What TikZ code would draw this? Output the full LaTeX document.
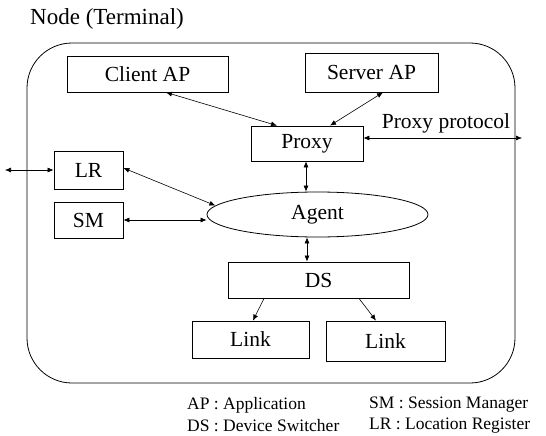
\documentclass[tikz,border=0pt]{standalone}
\usepackage{fontspec}
\setmainfont{Liberation Serif}
\usetikzlibrary{arrows.meta,shapes.geometric}
\begin{document}
\begin{tikzpicture}[x=1pt,y=-1pt,
  box/.style={draw,line width=0.8pt,inner sep=0pt,font=\fontsize{21.5}{24}\selectfont},
  conn/.style={line width=0.6pt,{Latex[length=6pt,width=5pt]}-{Latex[length=6pt,width=5pt]}},
  oneway/.style={line width=0.6pt,-{Latex[length=6pt,width=5pt]}},
  legend/.style={anchor=west,inner sep=0pt,font=\fontsize{17.5}{20}\selectfont}]
\useasboundingbox (0,0) rectangle (546,436);
\draw[line width=0.8pt,rounded corners=45pt] (27,43) rectangle (515,383);
\node[anchor=west,inner sep=0pt,font=\fontsize{23}{26}\selectfont] (title) at (30,19) {Node (Terminal)};
\node[box,minimum width=161pt,minimum height=36pt] (client) at (147.5,74) {Client AP};
\node[box,minimum width=133pt,minimum height=39pt] (server) at (371.5,72.5) {Server AP};
\node[box,minimum width=112pt,minimum height=35pt] (proxy) at (307,143.5) {Proxy};
\node[box,minimum width=69pt,minimum height=38pt] (lr) at (88.5,170) {LR};
\node[box,minimum width=69pt,minimum height=36pt] (sm) at (88.5,220) {SM};
\node[box,ellipse,minimum width=221pt,minimum height=45pt] (agent) at (317.5,214.5) {Agent};
\node[box,minimum width=181pt,minimum height=36pt] (ds) at (318.5,280) {DS};
\node[box,minimum width=117pt,minimum height=37pt] (link1) at (250.5,339.5) {Link};
\node[box,minimum width=119pt,minimum height=40pt] (link2) at (385.5,341) {\raisebox{-4pt}{Link}};
\node[inner sep=0pt,font=\fontsize{21.5}{24}\selectfont] (pplabel) at (446,123) {Proxy protocol};
\coordinate (ppout) at (522,138);
\coordinate (lrout) at (5,170);
\draw[conn] ([xshift=18.5pt]client.south) -- ([xshift=-30pt]proxy.north);
\draw[conn] ([xshift=11.5pt]server.south) -- ([xshift=23pt]proxy.north);
\draw[conn] ([yshift=5.5pt]proxy.east) -- (ppout);
\draw[conn] ([xshift=-1pt]proxy.south) -- ([xshift=-11.5pt]agent.north);
\draw[conn] (lrout) -- (lr.west);
\draw[conn] ([yshift=2pt]lr.east) -- (agent.175);
\draw[conn] (sm.east) -- (sm.east -| agent.west);
\draw[conn] ([xshift=-10.5pt]agent.south) -- ([xshift=-11.5pt]ds.north);
\draw[oneway] ([xshift=-54.5pt]ds.south) -- ([xshift=2.5pt]link1.north);
\draw[oneway] ([xshift=40.5pt]ds.south) -- ([xshift=-9.5pt]link2.north);
\node[legend] (lap) at (187,405) {AP : Application};
\node[legend] (lsm) at (369,405) {SM : Session Manager};
\node[legend] (lds) at (187,426) {DS : Device Switcher};
\node[legend] (llr) at (369,426) {LR : Location Register};
\end{tikzpicture}
\end{document}
